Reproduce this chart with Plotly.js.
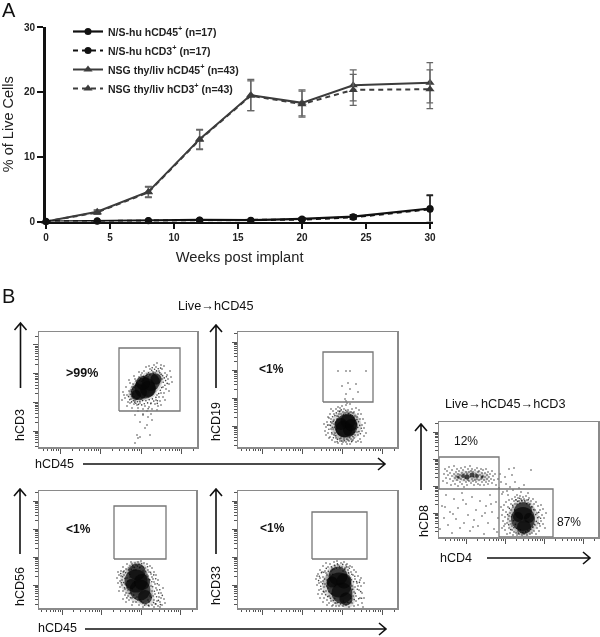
<!DOCTYPE html>
<html><head><meta charset="utf-8">
<script src="https://cdn.plot.ly/plotly-3.0.1.min.js"></script>
<style>html,body{margin:0;padding:0;background:#fff}#c{width:600px;height:637px;filter:blur(0.3px)}</style>
</head><body><div id="c"></div>
<script>
// ---------- Panel A data ----------
const weeks = [0,4,8,12,16,20,24,30];
const nsCD45 = [0,0.1,0.15,0.25,0.2,0.4,0.75,2.0];
const nsCD3 = [0,0.05,0.1,0.2,0.15,0.3,0.65,1.9];
const nsCD45Err = [0,0,0.1,0.1,0.1,0.2,0.3,2.1];
const nsCD3Err = [0,0,0.1,0.1,0.1,0.2,0.3,2.1];
const thyCD45 = [0,1.5,4.6,12.7,19.5,18.3,21.0,21.4];
const thyCD3 = [0,1.4,4.5,12.6,19.4,18.1,20.3,20.4];
const thyCD45Err = [0,0.3,0.8,1.5,2.4,2.0,2.4,3.1];
const thyCD3Err = [0,0.3,0.8,1.5,2.3,2.0,2.4,3.0];
const legendNames = ['N/S-hu hCD45<sup>+</sup> (n=17)','N/S-hu hCD3<sup>+</sup> (n=17)','NSG thy/liv hCD45<sup>+</sup> (n=43)','NSG thy/liv hCD3<sup>+</sup> (n=43)'];

// ---------- Panel B data: events, in channel units ----------
const cd3Core = [[100,55,16],[106,59,21],[112,65,18],[117,68,11],[97,52,10],[109,58,16],[104,64,14]];
const cd3Mid = [[100,55,20],[106,59,25],[112,65,22],[118,69,14],[95,52,12]];
const cd3Events = [[88,52],[90,56],[86,49],[92,48],[93,60],[91,44],[95,43],[97,66],[94,63],[96,46],[98,42],[100,70],[99,39],[102,72],[101,44],[104,38],[103,74],[106,41],[105,76],[108,36],[108,73],[110,40],[111,78],[113,38],[114,75],[116,43],[117,80],[119,41],[120,76],[121,46],[123,78],[124,50],[126,74],[125,54],[128,72],[127,58],[129,68],[130,63],[131,76],[132,70],[122,82],[115,82],[110,81],[84,55],[87,60],[89,45],[91,64],[96,68],[99,36],[104,33],[112,33],[118,37],[122,42],[126,47],[130,56],[133,65],[125,81],[118,84],[107,80],[100,75],[95,71],[90,67],[85,52],[83,47],[88,41],[93,39],[98,48],[102,48],[94,53],[92,57],[118,52],[122,54],[124,60],[123,68],[116,74],[109,70],[104,67],[97,62],[95,50],[112,44],[117,47],[120,50],[104,32],[109,30],[96,32],[101,25],[108,22],[113,27],[106,19],[98,12],[101,10],[111,12],[96,4],[99,9],
 [89.5,50.4],[90.7,47.2],[91.4,52.8],[92.6,45.1],[92.2,55.3],[93.3,50.7],[93.8,57.9],[94.4,46.3],[95.1,59.6],[95.7,44.8],[96.3,61.2],[96.8,43.7],[97.6,64.1],[98.4,45.2],[98.9,63.3],[99.5,42.6],[100.6,66.4],[100.9,45.8],[101.7,68.3],[102.7,42.1],[102.4,65.8],[103.6,46.4],[104.5,70.6],[105.3,43.3],[105.8,68.9],[106.9,46.2],[107.4,71.4],[108.6,44.1],[109.6,74.2],[110.2,47.3],[110.9,72.1],[111.8,43.2],[112.7,76.8],[113.4,48.1],[114.3,73.6],[114.8,45.9],[115.6,77.7],[116.9,49.6],[117.5,76.1],[118.4,46.3],[119.2,78.3],[119.7,53.4],[120.8,74.2],[121.3,56.7],[122.1,72.6],[122.7,59.4],[123.6,71.3],[124.2,64.7],[125.3,69.1],[125.9,61.8],[126.6,66.4],[127.4,70.2],[121.6,78.9],[113.2,79.3],[128.2,63.6],[118.3,43.6],[109.1,38.2]];
const cd19Core = [[108,21,23],[106,18,17],[110,26,15],[111,17,12],[103,23,12],[113,22,12]];
const cd19Mid = [[108,21,31],[105,16,20],[111,26,20]];
const cd19Events = [[88,20],[90,14],[89,25],[91,29],[92,10],[93,18],[92,33],[94,7],[95,36],[96,12],[96,27],[97,5],[98,38],[99,31],[100,4],[100,40],[102,36],[102,6],[104,41],[104,3],[106,38],[106,8],[108,42],[108,5],[110,37],[110,7],[112,43],[112,3],[114,38],[114,6],[116,35],[116,9],[118,39],[118,5],[120,33],[120,12],[122,28],[122,8],[124,22],[124,16],[126,19],[126,11],[123,33],[121,37],[119,30],[119,15],[117,31],[117,12],[115,34],[115,7],[113,35],[111,34],[109,35],[107,34],[105,35],[103,33],[101,33],[99,28],[98,9],[97,14],[96,23],[95,18],[94,24],[94,13],[93,28],[91,22],[90,30],[91,9],[87,16],[86,23],[88,12],[128,14],[127,24],[125,28],[103,9],[105,5],[109,3],[113,8],[111,6],[120,6],[123,5],[100,36],[102,39],[96,33],[93,38],[100,76],[108,76],[112,76],[128,76],[110,64],[104,61],[112,58],[118,63],[108,53],[120,55],[107,48],[115,48],[108,46],[109,44],
 [92.4,21.6],[93.7,14.3],[94.6,30.2],[95.4,9.2],[96.2,19.7],[96.9,31.4],[97.3,24.8],[97.8,11.3],[98.6,17.4],[98.3,34.1],[99.4,7.6],[100.2,30.7],[100.8,13.1],[101.4,35.4],[101.9,8.2],[103.2,37.1],[103.7,5.9],[105.4,32.6],[106.3,6.2],[107.8,36.7],[108.9,7.9],[110.4,33.3],[111.8,9.2],[112.7,31.8],[113.6,5.3],[114.4,31.2],[114.9,10.4],[115.8,29.7],[116.3,14.8],[116.9,26.6],[117.7,18.3],[118.2,23.1],[118.9,27.4],[119.8,19.6],[120.6,25.3],[120.9,15.4],[121.7,21.6],[122.4,13.3],[123.3,18.7],[99.1,5.2],[95.2,25.6],[94.3,19.8],[92.7,25.1],[90.9,17.7],[89.6,21.9]];
const cd56Core = [[98,36,17],[97,27,23],[101,18,21],[106,11,14],[92,24,10],[103,26,16]];
const cd56Mid = [[98,36,22],[96,27,30],[101,18,27],[107,10,17]];
const cd56Events = [[78,30],[79,25],[80,33],[81,21],[82,37],[83,28],[84,17],[84,41],[85,33],[86,13],[86,24],[87,39],[88,20],[88,44],[89,12],[89,35],[90,8],[91,42],[92,15],[92,46],[93,10],[94,41],[94,6],[96,45],[97,43],[98,11],[99,46],[100,44],[101,8],[102,47],[103,42],[104,5],[105,45],[106,40],[107,4],[108,44],[109,38],[110,6],[111,42],[112,34],[113,3],[113,40],[114,29],[115,8],[115,36],[116,24],[117,4],[117,33],[118,18],[119,2],[119,28],[120,11],[120,23],[121,6],[122,15],[123,3],[124,20],[125,9],[126,5],[114,12],[116,14],[112,22],[113,17],[111,28],[109,32],[107,35],[91,31],[90,27],[89,18],[88,30],[87,15],[86,19],[85,37],[83,23],[82,32],[81,27],[80,17],[79,36],[84,9],[87,6],[93,3],[97,6],[100,3],[104,1],[110,2],[115,1],[118,7],[121,1],[122,10],[90,40],[93,44],[95,38],[101,41],[104,37],[110,36],[113,31],[115,26],[117,20],[111,12],[109,8],
 [83.6,31.2],[84.7,25.4],[85.5,20.3],[85.9,29.6],[86.6,35.2],[87.4,22.7],[87.9,10.1],[88.6,26.8],[89.4,38.1],[90.3,14.6],[90.8,33.4],[91.6,10.2],[92.3,38.7],[93.2,19.1],[93.8,42.8],[94.7,12.9],[95.4,40.6],[96.2,9.8],[96.9,38.1],[98.4,41.9],[98.9,7.7],[100.6,40.3],[102.6,44.2],[102.4,6.7],[104.4,40.9],[105.7,2.9],[106.7,36.8],[107.9,33.1],[108.6,41.3],[109.4,2.6],[110.3,28.4],[111.6,35.7],[112.4,10.4],[112.8,26.3],[113.7,21.2],[114.6,5.4],[114.8,33.1],[115.4,16.8],[116.3,4.1],[116.7,29.3],[117.6,11.3],[118.3,24.2],[119.4,7.6],[119.7,14.9],[120.8,18.2],[121.4,3.4],[123.3,12.6],[82.4,25.3],[81.7,34.4],[84.2,36.1]];
const cd33Core = [[100,32,19],[101,23,25],[104,15,21],[108,9,13],[94,26,11],[106,27,15]];
const cd33Mid = [[100,32,24],[100,23,32],[104,15,27],[109,8,16],[92,26,14]];
const cd33Events = [[78,29],[79,23],[80,34],[81,18],[82,38],[83,26],[84,14],[85,42],[85,31],[86,10],[86,21],[87,37],[88,17],[88,45],[89,8],[89,33],[90,41],[91,12],[91,5],[92,44],[93,7],[94,40],[95,3],[96,46],[97,42],[98,5],[99,47],[100,43],[101,2],[103,45],[104,41],[105,2],[106,46],[107,40],[108,3],[109,44],[110,38],[111,1],[112,42],[113,36],[114,5],[114,41],[115,33],[116,2],[116,38],[117,29],[118,7],[118,36],[119,25],[120,3],[120,32],[121,18],[122,28],[122,10],[123,22],[124,5],[124,15],[125,1],[126,25],[126,10],[92,33],[91,26],[90,20],[89,28],[88,35],[87,24],[86,16],[85,27],[84,36],[83,19],[82,30],[81,25],[80,14],[79,32],[82,10],[85,6],[89,3],[94,2],[98,2],[110,41],[108,43],[105,37],[102,40],[96,39],[93,37],[112,30],[114,22],[116,16],[118,12],[115,12],[113,6],[117,21],[120,22],[123,30],[111,5],[106,5],[97,5],
 [80.6,27.4],[81.3,31.7],[82.7,21.8],[83.4,35.2],[84.6,24.3],[85.3,16.6],[85.8,35.7],[86.7,28.9],[87.6,13.2],[88.3,39.6],[88.8,21.9],[89.7,11.4],[90.4,36.7],[90.9,16.2],[91.7,29.6],[92.4,9.6],[93.4,41.2],[93.7,14.3],[94.6,38.2],[95.3,7.4],[96.4,42.8],[96.8,9.7],[98.3,39.9],[99.4,44.1],[99.7,5.2],[101.6,41.6],[102.4,4.1],[104.7,43.6],[105.4,6.9],[106.8,38.9],[108.3,41.1],[109.7,5.6],[110.6,35.1],[111.4,39.7],[112.7,9.4],[113.3,28.2],[113.8,33.7],[114.7,18.6],[115.6,26.3],[116.2,8.4],[116.8,31.8],[117.3,14.7],[118.6,26.4],[119.3,18.7],[120.7,9.3],[121.4,25.6],[122.7,16.4],[123.6,9.7],[94.8,33.6],[90.2,24.1]];
const cd8Core = [[24,61,4],[28,60,5],[33,62,5],[38,61,4],[43,60,3],[19,60,3]];
const cd8Mid = [[18,60,8],[25,61,11],[32,61,12],[39,61,11],[46,60,8]];
const cd8Events = [[4,56],[5,63],[6,68],[7,59],[8,54],[8,66],[9,62],[10,70],[11,58],[11,64],[12,52],[13,61],[13,67],[14,56],[15,63],[15,71],[16,59],[16,53],[17,65],[17,61],[18,57],[18,68],[19,63],[19,51],[20,59],[20,66],[21,55],[21,62],[22,69],[22,58],[23,64],[23,53],[24,67],[25,57],[25,63],[25,50],[26,59],[26,70],[27,65],[27,55],[28,63],[28,52],[29,68],[29,57],[30,65],[30,56],[31,60],[31,71],[32,54],[32,66],[33,58],[33,68],[34,56],[34,65],[35,60],[35,52],[36,67],[36,57],[37,63],[37,55],[38,69],[38,58],[39,65],[39,53],[40,57],[40,66],[41,62],[41,52],[42,68],[42,58],[43,64],[43,55],[44,61],[44,67],[45,57],[45,52],[46,64],[46,60],[47,68],[47,55],[48,62],[48,58],[49,65],[49,53],[50,60],[50,56],[51,63],[52,58],[53,66],[53,54],[54,61],[55,57],[56,63],[57,52],[59,58],[60,49],[62,55],[64,45],[66,60],[67,53],[68,46],[70,68],[71,50],[73,62],[74,47],[76,55],[78,42],[80,49],[82,45],[85,52],[89,44],[92,67],[75,69],[69,42],[63,43],[61,63]];
const cd4Core = [[84,26,18],[84,18,24],[85,10,14],[79,20,10],[90,19,10]];
const cd4Mid = [[84,26,24],[84,18,32],[85,10,20]];
const cd4Events = [[63,22],[64,16],[64,27],[65,11],[65,32],[66,20],[66,7],[67,25],[67,35],[68,14],[68,3],[69,30],[69,18],[70,9],[70,37],[71,24],[71,4],[72,33],[72,13],[73,38],[73,7],[74,30],[74,2],[75,36],[75,5],[76,40],[76,33],[77,4],[77,37],[78,2],[78,33],[79,39],[79,6],[80,36],[80,3],[81,41],[81,34],[82,5],[82,38],[83,2],[83,36],[84,40],[84,5],[85,38],[85,3],[86,35],[87,41],[87,5],[88,37],[88,2],[89,34],[90,39],[90,6],[91,33],[91,3],[92,36],[92,8],[93,30],[93,4],[94,38],[94,10],[95,33],[95,6],[96,27],[96,12],[97,35],[97,3],[98,24],[98,9],[99,31],[99,14],[100,20],[100,6],[101,27],[101,11],[102,16],[102,32],[103,22],[104,13],[104,28],[105,19],[106,9],[107,24],[70,21],[72,27],[71,16],[73,11],[73,22],[66,13],[63,9],[62,30],
 [68.6,22.4],[69.7,12.3],[70.4,28.6],[71.6,7.4],[72.4,20.3],[73.7,31.6],[74.4,16.2],[74.8,9.3],[75.6,27.1],[76.4,12.6],[76.9,37.3],[77.6,8.7],[78.7,35.6],[79.3,3.9],[80.6,38.7],[81.4,7.1],[82.7,36.4],[83.6,4.3],[85.7,36.2],[86.4,5.1],[87.6,33.4],[88.7,6.3],[89.4,37.2],[90.6,32.7],[91.3,7.6],[92.7,30.3],[93.4,9.7],[94.6,27.3],[95.4,12.8],[96.7,22.4],[97.3,15.6],[98.6,19.2],[99.7,24.6],[100.4,13.2],[101.6,18.7]];
const cd4Sparse = [[1,8],[3,31],[5,19],[7,42],[9,12],[11,25],[13,4],[15,38],[17,18],[19,29],[21,9],[23,44],[25,14],[27,33],[29,22],[31,6],[33,40],[35,17],[37,27],[39,11],[41,36],[43,21],[45,3],[47,31],[49,14],[51,42],[53,25],[55,8],[57,35],[59,19],[6,30],[14,23],[24,37],[34,10],[46,24],[52,33],[58,5]];

// ---------- Panel B gates, channel units ----------
const gateCd3 = {x:[80,141,141,80,80], y:[36,36,99,99,36]};
const gateCd19 = {x:[85,135,135,85,85], y:[45,45,95,95,45]};
const gateCd56 = {x:[75,127,127,75,75], y:[49,49,102,102,49]};
const gateCd33 = {x:[74,129,129,74,74], y:[49,49,96,96,49]};
const gateCd8 = {x:[0,60,60,0,0], y:[48,48,80,80,48]};
const gateCd4 = {x:[60,114,114,60,60], y:[0,0,48,48,0]};

// ---------- Text ----------
const percentLabels = ['>99%','<1%','<1%','<1%','12%','87%'];
const gatingTitles = ['Live<b>\u2192</b>hCD45','Live<b>\u2192</b>hCD45<b>\u2192</b>hCD3'];

const W=600,H=637;
const px=x=>x/W, py=y=>1-y/H;
const FONT='"Liberation Sans", Arial, sans-serif';

const layout={width:W,height:H,margin:{l:0,r:0,t:0,b:0},paper_bgcolor:'#fff',plot_bgcolor:'#fff',font:{family:FONT,color:'#111'},
  showlegend:true,
  legend:{x:px(68),y:py(17),xanchor:'left',yanchor:'top',bgcolor:'rgba(0,0,0,0)',borderwidth:0,itemwidth:30,tracegroupgap:0,font:{family:FONT,size:10.5,color:'#222',weight:700},itemclick:false,itemdoubleclick:false},
  xaxis:{domain:[px(46),px(433.2)],range:[0,30.25],anchor:'y',tickvals:[0,5,10,15,20,25,30],ticks:'outside',ticklen:5,tickwidth:2,tickcolor:'#111',linecolor:'#111',linewidth:2.5,showgrid:false,zeroline:false,
    tickfont:{family:FONT,size:10,weight:700,color:'#222'},title:{text:'Weeks post implant',font:{family:FONT,size:14.7,color:'#222'},standoff:10}},
  yaxis:{domain:[py(221.5),py(27)],range:[0,30],anchor:'x',tickvals:[0,10,20,30],ticks:'outside',ticklen:6,tickwidth:2,tickcolor:'#111',linecolor:'#111',linewidth:3,showgrid:false,zeroline:false,
    tickfont:{family:FONT,size:10,weight:700,color:'#222'},title:{text:'% of Live Cells',font:{family:FONT,size:14.5,color:'#222'},standoff:11}},
  annotations:[],shapes:[]};

function addText(t,x,y,size,o){layout.annotations.push(Object.assign({text:t,xref:'paper',yref:'paper',x:px(x),y:py(y),xanchor:'center',yanchor:'middle',showarrow:false,font:{family:FONT,size:size,color:'#111'}},o||{}));}
function arrow(x0,y0,x1,y1){
  const horiz=y0===y1, h=7, s=6;
  const pts=horiz?[[x1-h,y1-s],[x1,y1],[x1-h,y1+s]]:[[x1-s,y1+h],[x1,y1],[x1+s,y1+h]];
  const p=(a)=>px(a[0])+' '+py(a[1]);
  layout.shapes.push({type:'path',xref:'paper',yref:'paper',path:'M '+p([x0,y0])+' L '+p([x1,y1])+' M '+p(pts[0])+' L '+p(pts[1])+' L '+p(pts[2]),line:{color:'#111',width:1.6}});
}
function logTicks(offset,dec,limit){
  const major=[],minor=[];
  for(let d=-1;d<5;d++){for(let k=1;k<10;k++){const v=offset+dec*(d+Math.log10(k));if(v<0||v>limit)continue;(k===1?major:minor).push(v);}}
  return {major,minor};
}
const panels=[
 {l:39,r:197,t:332,b:447,xo:21,xd:40.5,yo:16,yd:28.7,core:cd3Core,mid:cd3Mid,ev:cd3Events,gates:[gateCd3]},
 {l:238,r:397,t:332,b:447,xo:24,xd:40,yo:21,yd:28,core:cd19Core,mid:cd19Mid,ev:cd19Events,gates:[gateCd19]},
 {l:39,r:196,t:491,b:608,xo:23,xd:39.5,yo:23,yd:28,core:cd56Core,mid:cd56Mid,ev:cd56Events,gates:[gateCd56]},
 {l:238,r:397,t:491,b:608,xo:24,xd:40,yo:23,yd:28,core:cd33Core,mid:cd33Mid,ev:cd33Events,gates:[gateCd33]},
 {l:439,r:598,t:422,b:537,xo:27,xd:39,yo:24,yd:27,core:cd8Core.concat(cd4Core),mid:cd8Mid.concat(cd4Mid),ev:cd8Events.concat(cd4Events,cd4Sparse),gates:[gateCd8,gateCd4]}
];

const errA=(arr,c)=>({type:'data',array:arr,color:c,thickness:1.3,width:3.5});
const data=[
 {x:weeks,y:thyCD45,name:legendNames[2],legendrank:3,legendgroup:'c',mode:'lines+markers',line:{color:'#3c3c3c',width:2},marker:{symbol:'triangle-up',size:8,color:'#3c3c3c'},error_y:errA(thyCD45Err,'#666'),cliponaxis:false},
 {x:weeks,y:thyCD3,name:legendNames[3],legendrank:4,legendgroup:'d',mode:'lines+markers',line:{color:'#3c3c3c',width:2,dash:'5px,4px'},marker:{symbol:'triangle-up',size:8,color:'#3c3c3c'},error_y:errA(thyCD3Err,'#666'),cliponaxis:false},
 {x:weeks,y:nsCD45,name:legendNames[0],legendrank:1,legendgroup:'a',mode:'lines+markers',line:{color:'#111',width:2.2},marker:{symbol:'circle',size:7,color:'#111'},error_y:errA(nsCD45Err,'#222'),cliponaxis:false},
 {x:weeks,y:nsCD3,name:legendNames[1],legendrank:2,legendgroup:'b',mode:'lines+markers',line:{color:'#111',width:2.2,dash:'5px,4px'},marker:{symbol:'circle',size:7,color:'#111'},error_y:errA(nsCD3Err,'#222'),cliponaxis:false}
];

panels.forEach((p,i)=>{
  const n=i+2, xa='xaxis'+n, ya='yaxis'+n, w=p.r-p.l, h=p.b-p.t;
  const tx=logTicks(p.xo,p.xd,w), ty=logTicks(p.yo,p.yd,h);
  const common={mirror:true,linecolor:'#8a8a8a',linewidth:1.5,showgrid:false,zeroline:false,showticklabels:false,tickmode:'array',ticks:'outside',ticklen:5,tickwidth:1,tickcolor:'#555'};
  layout[xa]=Object.assign({domain:[px(p.l),px(p.r)],range:[0,w],anchor:'y'+n,tickvals:tx.major,minor:{tickmode:'array',tickvals:tx.minor,ticks:'outside',ticklen:2.5,tickwidth:1,tickcolor:'#555'}},common);
  layout[ya]=Object.assign({domain:[py(p.b),py(p.t)],range:[0,h],anchor:'x'+n,tickvals:ty.major,minor:{tickmode:'array',tickvals:ty.minor,ticks:'outside',ticklen:2.5,tickwidth:1,tickcolor:'#555'}},common);
  const base={xaxis:'x'+n,yaxis:'y'+n,mode:'markers',showlegend:false,hoverinfo:'skip'};
  data.push(Object.assign({x:p.mid.map(e=>e[0]),y:p.mid.map(e=>e[1]),marker:{size:p.mid.map(e=>e[2]),color:'#111',opacity:.16,line:{width:0}}},base));
  data.push(Object.assign({x:p.ev.map(e=>e[0]),y:p.ev.map(e=>e[1]),marker:{size:1.6,color:'#222',opacity:.85,line:{width:0}}},base));
  data.push(Object.assign({x:p.core.map(e=>e[0]),y:p.core.map(e=>e[1]),marker:{size:p.core.map(e=>e[2]),color:'#050505',line:{width:0}}},base));
  p.gates.forEach(g=>data.push({x:g.x,y:g.y,xaxis:'x'+n,yaxis:'y'+n,mode:'lines',showlegend:false,hoverinfo:'skip',line:{color:'#777',width:1.3}}));
});

const bold=s=>({font:{family:FONT,size:s,color:'#111',weight:700}});
addText('A',8.5,10,20);
addText('B',8,296,20);
addText(gatingTitles[0],215.5,306,12.7);
addText(gatingTitles[1],505,404,12.7);
addText(percentLabels[0],82,373,12.5,bold(12.5));
addText(percentLabels[1],271,369,12,bold(12));
addText(percentLabels[2],78,529,12,bold(12));
addText(percentLabels[3],272,528,12,bold(12));
addText(percentLabels[4],466,441,12);
addText(percentLabels[5],569,522,12);
addText('hCD3',20,425,12.5,{textangle:-90});
addText('hCD19',216,422,12.5,{textangle:-90});
addText('hCD56',20,587,12.5,{textangle:-90});
addText('hCD33',216,586,12.5,{textangle:-90});
addText('hCD8',424,521,12.5,{textangle:-90});
addText('hCD45',55,464,12.5);
addText('hCD45',57,628,12.5);
addText('hCD4',456,558,12.5);
arrow(20.5,388,20.5,323);
arrow(216,388,216,325);
arrow(20,554,20,489);
arrow(216,554,216,489);
arrow(83,464,385,464);
arrow(85,629,386,629);
arrow(421,490,421,424);
arrow(487,558,590,558);

Plotly.newPlot('c',data,layout,{displayModeBar:false,staticPlot:true});
</script></body></html>
